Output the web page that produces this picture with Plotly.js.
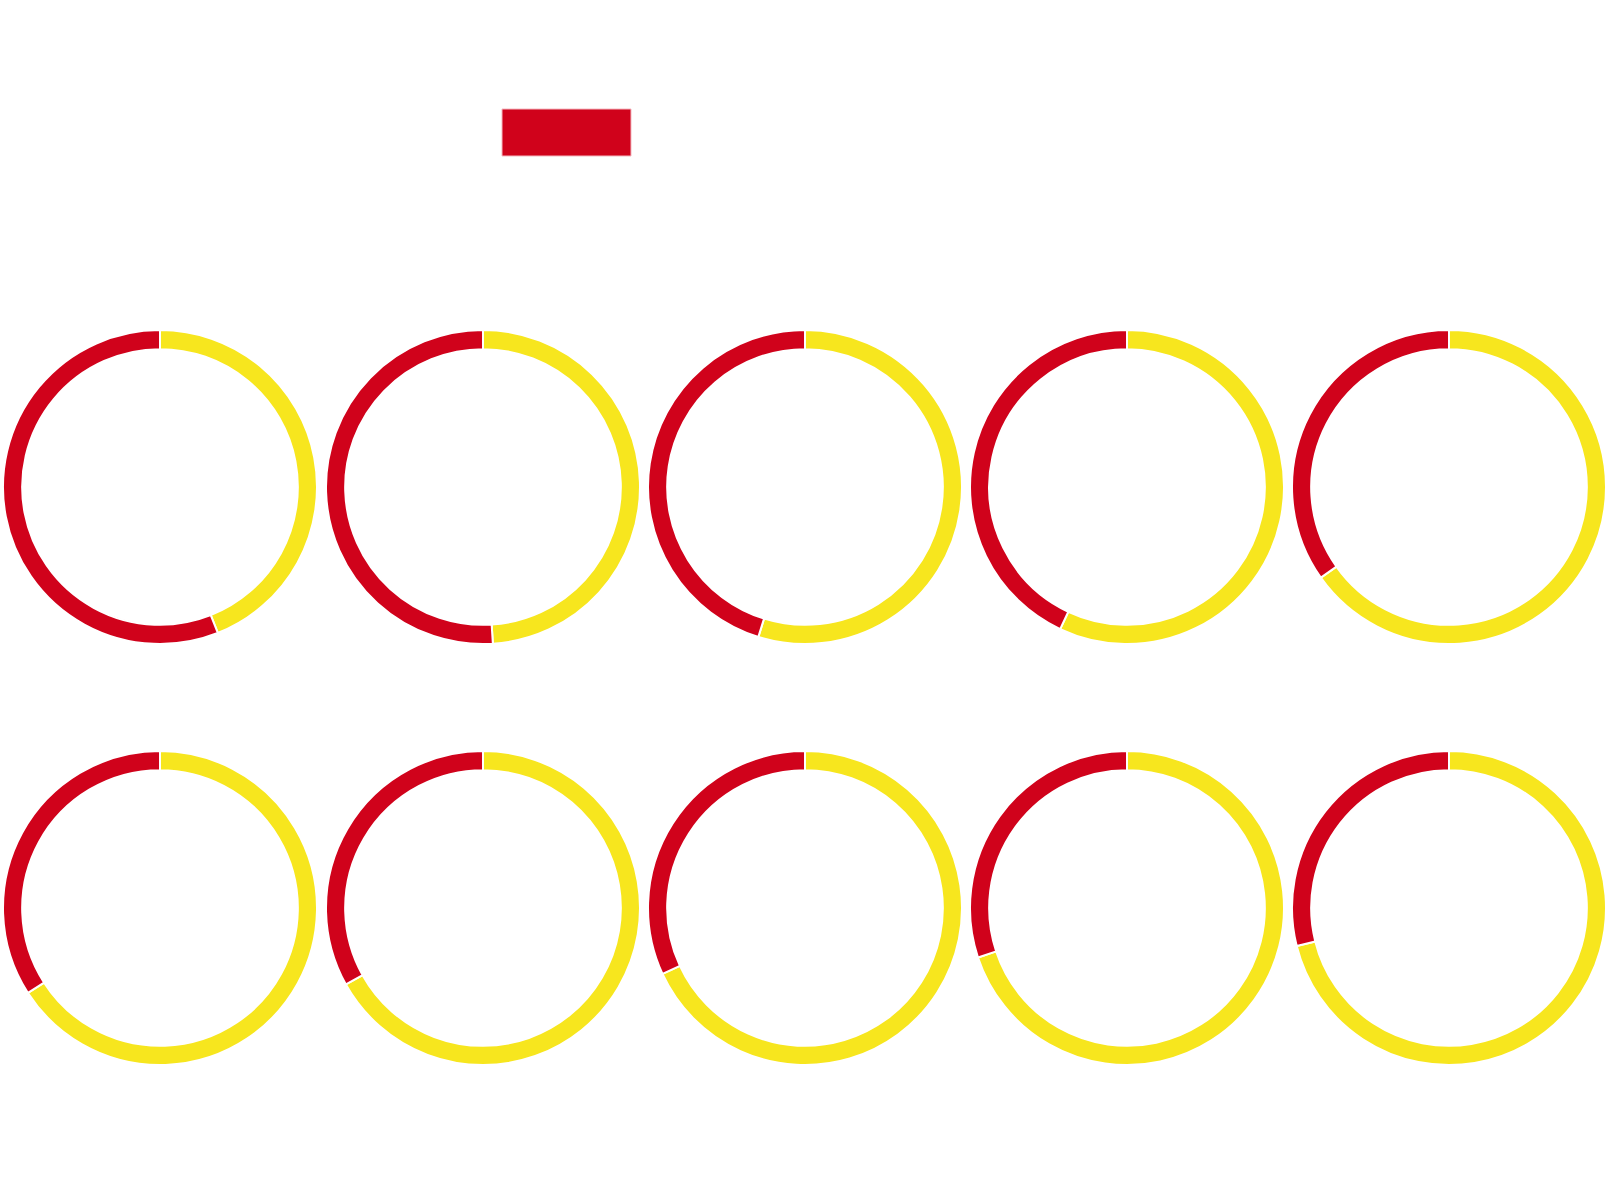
<!DOCTYPE html>
<html>
<head>
<meta charset="utf-8">
<script src="https://cdn.plot.ly/plotly-3.0.1.min.js"></script>
<style>html,body{margin:0;padding:0;background:#fff;}#chart{width:1610px;height:1200px;}</style>
</head>
<body>
<div id="chart"></div>
<script>
// Data: share (%) for each of the ten donuts
const categories = ["Yellow", "Red"];
const redValues = [56, 51, 45.2, 43, 34.8, 34.1, 33.1, 31.9, 30.1, 28.9];
const yellowValues = redValues.map(v => 100 - v);
const colors = ["#F7E61E", "#D0021B"];

const W = 1610, H = 1200;
const R = 157;
const colCenters = [160, 483, 805, 1127, 1449];
const rowCenters = [487, 908];

const traces = redValues.map((rv, i) => {
  const cx = colCenters[i % 5];
  const cy = rowCenters[Math.floor(i / 5)];
  return {
    type: "pie",
    labels: categories,
    values: [yellowValues[i], rv],
    sort: false,
    direction: "clockwise",
    rotation: 0,
    hole: 0.878,
    textinfo: "none",
    hoverinfo: "label+percent",
    marker: { colors: colors, line: { color: "#ffffff", width: 2 } },
    domain: {
      x: [(cx - R) / W, (cx + R) / W],
      y: [(H - cy - R) / H, (H - cy + R) / H]
    },
    showlegend: false
  };
});

const layout = {
  width: W,
  height: H,
  margin: { l: 0, r: 0, t: 0, b: 0 },
  paper_bgcolor: "#ffffff",
  plot_bgcolor: "#ffffff",
  showlegend: false,
  shapes: [{
    type: "rect",
    xref: "paper", yref: "paper",
    x0: 502 / W, x1: 631 / W,
    y0: (H - 156) / H, y1: (H - 109) / H,
    fillcolor: colors[1],
    line: { color: "#f4b8c0", width: 1 }
  }]
};

Plotly.newPlot("chart", traces, layout, { displayModeBar: false, staticPlot: true });
</script>
</body>
</html>
